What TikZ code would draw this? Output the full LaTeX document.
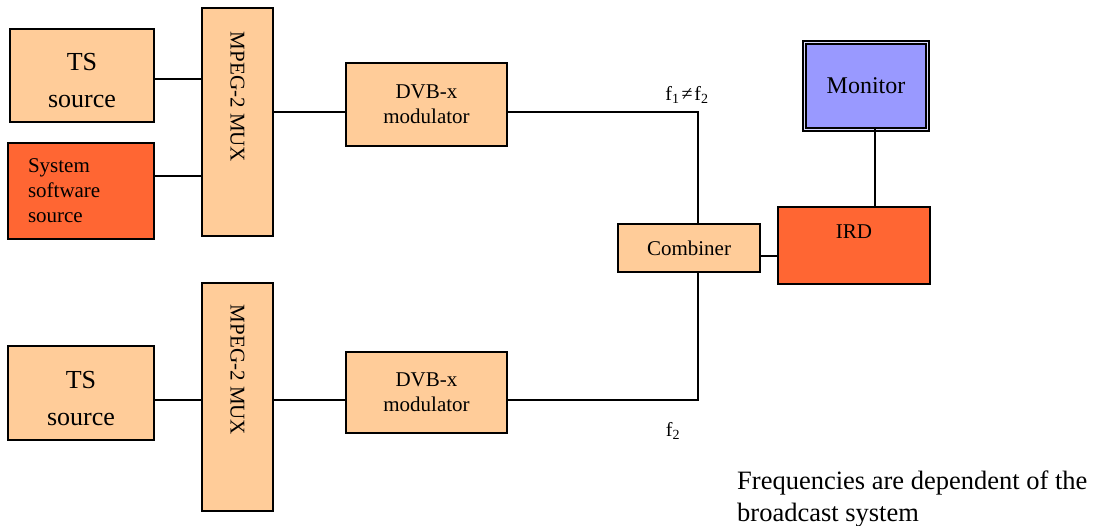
\documentclass[tikz,border=0pt]{standalone}
\usepackage{graphicx}
\usepackage{fontspec}
\setmainfont{Liberation Serif}
\definecolor{peachc}{HTML}{FFCC99}
\definecolor{redc}{HTML}{FF6633}
\definecolor{monc}{HTML}{9999FF}
\begin{document}
\begin{tikzpicture}[x=1pt,y=-1pt,
  box/.style={draw=black, line width=1.2pt, inner sep=0pt, outer sep=0pt, align=center},
  peach/.style={box, fill=peachc},
  red/.style={box, fill=redc},
  big/.style={font=\fontsize{26}{37}\selectfont},
  med/.style={font=\fontsize{21}{25}\selectfont},
  wire/.style={line width=1.2pt},
  lbl/.style={inner sep=0pt, font=\fontsize{20}{24}\selectfont}]
\useasboundingbox (0,0) rectangle (1093,526);

% upper chain
\node[peach, big, minimum width=144pt, minimum height=93pt] (ts1) at (82,75.5) {\rule{0pt}{28pt}TS\\source};
\node[red, font=\fontsize{21}{25}\selectfont, minimum width=146pt, minimum height=96pt,
      text width=106pt, align=left, inner xsep=20pt] (sys) at (81,191) {System\\software\\source};
\node[peach, med, minimum width=71pt, minimum height=228pt] (mux1) at (237.5,122)
  {\raisebox{25pt}[\height][\depth]{\rotatebox{-90}{MPEG-2 MUX}}};
\node[peach, med, minimum width=161pt, minimum height=83pt] (dvb1) at (426.5,104.5) {DVB-x\\modulator};

% lower chain
\node[peach, big, minimum width=146pt, minimum height=94pt] (ts2) at (81,393) {\rule{0pt}{28pt}TS\\source};
\node[peach, med, minimum width=71pt, minimum height=228pt] (mux2) at (237.5,397)
  {\raisebox{27pt}[\height][\depth]{\rotatebox{-90}{MPEG-2 MUX}}};
\node[peach, med, minimum width=161pt, minimum height=81pt] (dvb2) at (426.5,392.5) {DVB-x\\modulator};

% right side
\node[peach, med, minimum width=142pt, minimum height=48pt] (comb) at (689,248) {Combiner};
\node[red, minimum width=152pt, minimum height=77pt,
      label={[anchor=north, inner sep=0pt, yshift=-18pt, font=\fontsize{21}{26}\selectfont]north:IRD}] (ird) at (854,245.5) {};
\node[box, fill=monc, line width=1.3pt, double=monc!35, double distance=1.6pt,
      font=\fontsize{24}{28}\selectfont, minimum width=123pt, minimum height=87pt] (mon) at (866,86) {Monitor};

% connectors upper
\coordinate (t1o) at ([yshift=-3.5pt]ts1.east);
\draw[wire] (t1o) -- (t1o -| mux1.west);
\coordinate (so) at ([yshift=15pt]sys.east);
\draw[wire] (so) -- (so -| mux1.west);
\coordinate (d1i) at ([yshift=-7.5pt]dvb1.west);
\draw[wire] (d1i -| mux1.east) -- (d1i);
\coordinate (d1o) at ([yshift=-7.5pt]dvb1.east);
\coordinate (ct) at ([xshift=9pt]comb.north);
\draw[wire] (d1o) -- (d1o -| ct) -- (ct);

% connectors lower
\coordinate (t2o) at ([yshift=-7pt]ts2.east);
\draw[wire] (t2o) -- (t2o -| mux2.west);
\coordinate (d2i) at ([yshift=-7.5pt]dvb2.west);
\draw[wire] (d2i -| mux2.east) -- (d2i);
\coordinate (d2o) at ([yshift=-7.5pt]dvb2.east);
\coordinate (cb) at ([xshift=9pt]comb.south);
\draw[wire] (d2o) -- (d2o -| cb) -- (cb);

% combiner - IRD - monitor
\coordinate (ci) at ([yshift=-8pt]comb.east);
\draw[wire] (ci) -- (ci -| ird.west);
\coordinate (mb) at ([xshift=9pt]mon.south);
\draw[wire] (mb) -- (mb |- ird.north);

% labels
\node[lbl] (f12) at (687,95) {f\textsubscript{1}\kern2pt≠\kern2pt f\textsubscript{2}};
\node[lbl] (f2) at (673,431) {f\textsubscript{2}};
\node[inner sep=0pt, anchor=north west, align=left, font=\fontsize{26.5}{32}\selectfont] (note) at (737,471)
  {Frequencies are dependent of the\\broadcast system};
\end{tikzpicture}
\end{document}
